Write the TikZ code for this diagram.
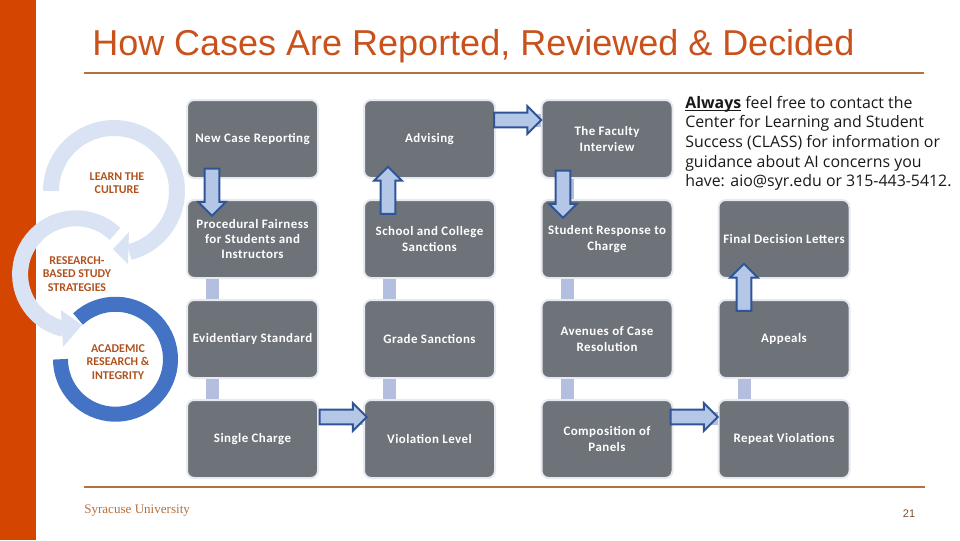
\documentclass[tikz,border=0pt]{standalone}
\usepackage{fontspec}
\setmainfont{Carlito}
\newfontfamily\titlefont{Liberation Sans}
\newfontfamily\notefont{Open Sans}
\newfontfamily\logofont{Liberation Serif}
\newfontfamily\boxfont[LetterSpace=3.5,BoldFont={Carlito Bold}]{Carlito}
\usetikzlibrary{shapes.arrows}
\definecolor{suorange}{HTML}{D44500}
\definecolor{titleorange}{HTML}{C9521C}
\definecolor{rulebrown}{HTML}{B5703F}
\definecolor{ringlight}{HTML}{DAE3F3}
\definecolor{ringblue}{HTML}{4472C4}
\definecolor{labelbrown}{HTML}{B0521F}
\definecolor{boxgray}{HTML}{6D7378}
\definecolor{boxedge}{HTML}{E6E9EF}
\definecolor{barblue}{HTML}{B4BFDF}
\definecolor{arrowfill}{HTML}{B4C7E7}
\definecolor{arrowedge}{HTML}{2F5597}
\tikzset{
  casebox/.style={draw=boxedge,line width=0.5mm,fill=boxgray,rounded corners=1.8mm,minimum width=32.75mm,minimum height=19.5mm,inner sep=0pt,align=center,text=white,font=\boxfont\bfseries\fontsize{9.2}{11}\selectfont},
  ringlabel/.style={align=center,inner sep=0pt,text=labelbrown,font=\bfseries\fontsize{8.5}{9.4}\selectfont},
  linkbar/.style={draw=barblue,line width=3.25mm},
  blockarrow/.style={single arrow,draw=arrowedge,line width=0.5mm,fill=arrowfill,minimum height=11.75mm,minimum width=0pt,single arrow head extend=1.6mm,single arrow tip angle=90,single arrow head indent=0pt,inner xsep=0pt,inner ysep=1.6mm,outer sep=0pt},
  ringarc/.style={line width=4mm,draw=ringlight}
}
\begin{document}
\begin{tikzpicture}[x=0.25mm,y=-0.25mm]
\useasboundingbox (0,0) rectangle (960,540);
\fill[suorange] (0,0) rectangle (36,540);

\node[anchor=west,inner sep=0pt,text=titleorange,font=\titlefont\fontsize{25.6}{28}\selectfont] (title) at (92,46) {How Cases Are Reported, Reviewed \& Decided};
\draw[rulebrown,line width=0.3mm] (84,73) -- (924,73);
\draw[rulebrown,line width=0.3mm] (84,487) -- (925,487);
\node[anchor=west,inner sep=0pt,text=rulebrown,font=\logofont\fontsize{9.3}{12}\selectfont] (logo) at (84,511) {Syracuse University};
\node[inner sep=0pt,text=rulebrown!70!black,font=\titlefont\fontsize{7.8}{9}\selectfont] (pagenum) at (909,514) {21};

\draw[ringarc] (51,191) arc[start angle=180,end angle=-76,radius=15.75mm];
\fill[ringlight] (129,232) -- (113,249) -- (128,264) -- cycle;
\draw[ringarc,line width=3.75mm,draw=ringblue] (78,319) arc[start angle=133,end angle=-180,radius=13.75mm];
\draw[ringarc] (115,234) arc[start angle=46,end angle=257,radius=14mm];
\fill[ringlight] (61,310) -- (82,325) -- (63,347) -- cycle;

\node[ringlabel] (learn) at (117,183) {LEARN THE\\CULTURE};
\node[ringlabel] (study) at (77,274) {RESEARCH-\\BASED STUDY\\STRATEGIES};
\node[ringlabel] (integrity) at (118,362) {ACADEMIC\\RESEARCH \&\\INTEGRITY};

\node[casebox] (newcase) at (252.5,139) {New Case Reporting};
\node[casebox] (advising) at (429.5,139) {Advising};
\node[casebox] (interview) at (607,139) {The Faculty\\Interview};
\node[casebox] (fairness) at (252.5,239) {Procedural Fairness\\for Students and\\Instructors};
\node[casebox] (sanctions) at (429.5,239) {School and College\\Sanctions};
\node[casebox] (response) at (607,239) {Student Response to\\Charge};
\node[casebox] (letters) at (784,239) {Final Decision Letters};
\node[casebox] (evidence) at (252.5,339) {Evidentiary Standard};
\node[casebox] (grade) at (429.5,339) {Grade Sanctions};
\node[casebox] (avenues) at (607,339) {Avenues of Case\\Resolution};
\node[casebox] (appeals) at (784,339) {Appeals};
\node[casebox] (single) at (252.5,439) {Single Charge};
\node[casebox] (level) at (429.5,439) {Violation Level};
\node[casebox] (panels) at (607,439) {Composition of\\Panels};
\node[casebox] (repeat) at (784,439) {Repeat Violations};

\draw[linkbar] ([xshift=-10mm]newcase.south) -- ([xshift=-10mm]fairness.north);
\draw[linkbar] ([xshift=-10mm]fairness.south) -- ([xshift=-10mm]evidence.north);
\draw[linkbar] ([xshift=-10mm]evidence.south) -- ([xshift=-10mm]single.north);
\draw[linkbar] ([xshift=-10mm]advising.south) -- ([xshift=-10mm]sanctions.north);
\draw[linkbar] ([xshift=-10mm]sanctions.south) -- ([xshift=-10mm]grade.north);
\draw[linkbar] ([xshift=-10mm]grade.south) -- ([xshift=-10mm]level.north);
\draw[linkbar] ([xshift=-10mm]interview.south) -- ([xshift=-10mm]response.north);
\draw[linkbar] ([xshift=-10mm]response.south) -- ([xshift=-10mm]avenues.north);
\draw[linkbar] ([xshift=-10mm]avenues.south) -- ([xshift=-10mm]panels.north);
\draw[linkbar] ([xshift=-10mm]letters.south) -- ([xshift=-10mm]appeals.north);
\draw[linkbar] ([xshift=-10mm]appeals.south) -- ([xshift=-10mm]repeat.north);
\draw[linkbar] ([yshift=4.75mm]advising.east) -- ([yshift=4.75mm]interview.west);
\draw[linkbar] ([yshift=5.25mm]single.east) -- ([yshift=5.25mm]level.west);
\draw[linkbar] ([yshift=5.25mm]panels.east) -- ([yshift=5.25mm]repeat.west);

\node[blockarrow,rotate=-90] (arrowfairness) at (212,188.5) {};
\node[blockarrow,rotate=90] (arrowadvising) at (388,194) {};
\node[blockarrow] (arrowinterview) at (514,120) {};
\node[blockarrow,rotate=-90] (arrowresponse) at (563,190.5) {};
\node[blockarrow,rotate=90] (arrowletters) at (744,291) {};
\node[blockarrow] (arrowlevel) at (339.5,417) {};
\node[blockarrow] (arrowrepeat) at (690.5,417) {};

\node[anchor=north west,inner sep=0pt,align=left,text=black!90,font=\notefont\fontsize{11.3}{13.9}\selectfont] (contact) at (685,96) {\underline{\smash{\textbf{Always}}} feel free to contact the\\Center for Learning and Student\\Success (CLASS) for information or\\guidance about AI concerns you\\have: aio@syr.edu or 315-443-5412.};
\end{tikzpicture}
\end{document}
